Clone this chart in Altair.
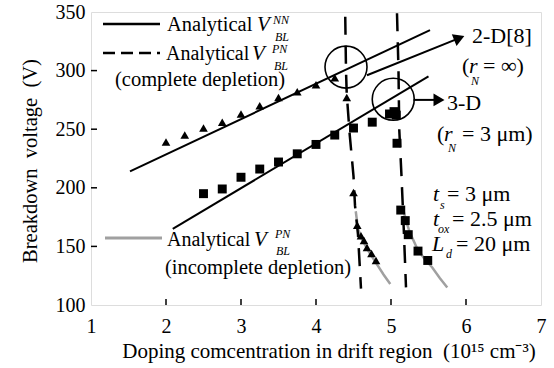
import altair as alt
import pandas as pd

FONT = "Liberation Serif"
W, H = 450, 293
PL, PT = 91, 12

# ---------------- data ----------------
tri_x = [2.0, 2.25, 2.5, 2.75, 3.0, 3.25, 3.5, 3.75, 4.0, 4.25, 4.41, 4.5, 4.55, 4.6, 4.64, 4.68, 4.74, 4.8]
tri_v = [239, 245, 251, 256, 263, 270, 277, 282, 288, 294, 277, 196, 168, 159, 155, 149, 144, 138]

sq_x = [2.5, 2.75, 3.0, 3.25, 3.5, 3.75, 4.0, 4.25, 4.5, 4.75, 4.98, 5.04, 5.07, 5.08, 5.13, 5.19, 5.23, 5.36, 5.49]
sq_v = [195, 199, 209, 216, 222, 229, 237, 245, 251, 256, 263, 265, 262, 238, 181, 172, 160, 146, 138]

nn2d_x = [1.52, 5.52]
nn2d_v = [214, 334.6]
nn3d_x = [2.09, 5.5]
nn3d_v = [165, 295]

pnl_x = [4.39, 4.40, 4.41, 4.45, 4.50, 4.52, 4.56, 4.60]
pnl_v = [346, 300, 280, 245, 210, 185, 160, 114]
pnr_x = [5.08, 5.10, 5.11, 5.14, 5.17, 5.20]
pnr_v = [349, 300, 250, 210, 165, 115]

inl_x = [4.53, 4.56, 4.62, 4.70, 4.80, 4.90, 4.99]
inl_v = [180, 165, 155, 146, 136, 126, 118]
inr_x = [5.15, 5.20, 5.25, 5.35, 5.45, 5.55, 5.65, 5.75]
inr_v = [185, 172, 162, 148, 139, 132, 123, 115]

circ_x = [4.40, 5.03]
circ_v = [303, 275.5]

arr1_x = [4.68, 5.91]
arr1_v = [296, 327.7]
arr2_x = [5.30, 5.64]
arr2_v = [275, 275]

x_ticks = [1, 2, 3, 4, 5, 6, 7]
y_ticks = [100, 150, 200, 250, 300, 350]

# ---------------- scales / axes ----------------
xs = alt.Scale(domain=[1, 7], nice=False, zero=False)
ys = alt.Scale(domain=[100, 350], nice=False, zero=False)
X = alt.X("x:Q", scale=xs, axis=alt.Axis(values=x_ticks, title=None, grid=False, ticks=False,
                                          domain=False, labelFont=FONT, labelFontSize=20,
                                          labelColor="black", labelPadding=11, labelFlush=False))
Y = alt.Y("v:Q", scale=ys, axis=alt.Axis(values=y_ticks, title=None, grid=False, ticks=False,
                                          domain=False, labelFont=FONT, labelFontSize=20,
                                          labelColor="black", labelPadding=6, labelFlush=False))


def df(xv, vv):
    return pd.DataFrame({"x": xv, "v": vv, "i": list(range(len(xv)))})


def line(xv, vv, color="black", width=2, dash=None):
    kw = dict(color=color, strokeWidth=width)
    if dash:
        kw["strokeDash"] = dash
    return alt.Chart(df(xv, vv)).mark_line(**kw).encode(x=X, y=Y, order="i:Q")


one = pd.DataFrame({"a": [0]})


def txt(s, x, y, size=20, italic=False, color="black", align="left", angle=0):
    kw = dict(text=s, font=FONT, fontSize=size, fontStyle="italic" if italic else "normal",
              align=align, baseline="middle", color=color)
    if angle:
        kw["angle"] = angle
    return alt.Chart(one).mark_text(**kw).encode(x=alt.value(x - PL), y=alt.value(y - PT))


def seg(x1, x2, y, color="black", width=2.5, dash=None):
    kw = dict(color=color, strokeWidth=width)
    if dash:
        kw["strokeDash"] = dash
    return alt.Chart(one).mark_rule(**kw).encode(x=alt.value(x1 - PL), x2=alt.value(x2 - PL),
                                                 y=alt.value(y - PT))


layers = []

# inside ticks
layers.append(alt.Chart(pd.DataFrame({"x": x_ticks[1:-1]})).mark_rule(color="black", strokeWidth=1.5)
              .encode(x=X, y=alt.value(H), y2=alt.value(H - 6)))
layers.append(alt.Chart(pd.DataFrame({"v": y_ticks[1:-1]})).mark_rule(color="black", strokeWidth=1.5)
              .encode(y=Y, x=alt.value(0), x2=alt.value(6)))

# curves
layers.append(line(inl_x, inl_v, color="#a0a0a0", width=2.5))
layers.append(line(inr_x, inr_v, color="#a0a0a0", width=2.5))
layers.append(line(nn2d_x, nn2d_v, width=2))
layers.append(line(nn3d_x, nn3d_v, width=2))
layers.append(line(pnl_x, pnl_v, width=2.5, dash=[18, 11]))
layers.append(line(pnr_x, pnr_v, width=2.5, dash=[18, 11]))

# markers
layers.append(alt.Chart(df(tri_x, tri_v)).mark_point(shape="triangle-up", filled=True, color="black",
                                                     opacity=1, size=75).encode(x=X, y=Y))
layers.append(alt.Chart(df(sq_x, sq_v)).mark_point(shape="square", filled=True, color="black",
                                                   opacity=1, size=80).encode(x=X, y=Y))

# circles and arrows
layers.append(alt.Chart(df(circ_x, circ_v)).mark_point(shape="circle", filled=False, color="black",
                                                       strokeWidth=1.6, opacity=1, size=1764)
              .encode(x=X, y=Y))
layers.append(line(arr1_x, arr1_v, width=2))
layers.append(line(arr2_x, arr2_v, width=2))
layers.append(alt.Chart(df([arr1_x[-1]], [arr1_v[-1]])).mark_point(shape="triangle-right", filled=True,
                                                                 color="black", opacity=1, size=160,
                                                                 angle=338).encode(x=X, y=Y))
layers.append(alt.Chart(df([arr2_x[-1]], [arr2_v[-1]])).mark_point(shape="triangle-right", filled=True,
                                                                 color="black", opacity=1, size=160)
              .encode(x=X, y=Y))

# legend
layers.append(seg(103, 160, 24, width=2.5))
layers += [txt("Analytical", 167, 25, size=20.5), txt("V", 257, 25, size=21, italic=True),
           txt("NN", 273, 20, size=12, italic=True), txt("BL", 275, 37, size=12, italic=True)]
layers.append(seg(103, 160, 53, width=2.5, dash=[12, 6]))
layers += [txt("Analytical", 166, 54, size=20), txt("V", 252, 54, size=21, italic=True),
           txt("PN", 272, 49, size=12, italic=True), txt("BL", 274, 66, size=12, italic=True),
           txt("(complete depletion)", 115, 80, size=20.5)]
layers.append(seg(105, 162, 238, color="#a0a0a0", width=3))
layers += [txt("Analytical", 167, 240, size=20), txt("V", 254, 240, size=21, italic=True),
           txt("PN", 275, 234, size=12, italic=True), txt("BL", 276, 251, size=12, italic=True),
           txt("(incomplete depletion)", 165, 268, size=20.5)]

# right annotations
layers += [txt("2-D[8]", 472, 36, size=22),
           txt("(", 462, 66, size=22), txt("r", 469, 66, size=22, italic=True),
           txt("N", 471, 81, size=12, italic=True),
           txt("= \u221e)", 483, 66, size=22),
           txt("3-D", 447, 103, size=22),
           txt("(", 437, 134, size=22), txt("r", 444, 134, size=22, italic=True),
           txt("N", 448, 148, size=12, italic=True),
           txt("= 3 \u03bcm)", 462, 134, size=22)]
layers += [txt("t", 433, 194, size=22, italic=True), txt("s", 440, 205, size=12, italic=True),
           txt("= 3 \u03bcm", 447, 194, size=22),
           txt("t", 433, 219, size=22, italic=True), txt("ox", 438, 229, size=12, italic=True),
           txt("= 2.5 \u03bcm", 452, 219, size=22),
           txt("L", 432, 244, size=22, italic=True), txt("d", 446, 254, size=12, italic=True),
           txt("= 20 \u03bcm", 456, 244, size=22)]

# axis titles
layers.append(txt("Breakdown\u00a0 voltage\u00a0 (V)", 31, 161, size=20.5, align="center", angle=270))
layers.append(txt("Doping comcentration in drift region\u00a0 (10\u00b9\u2075 cm\u207b\u00b3)", 329, 352,
                  size=21, align="center"))

chart = alt.layer(*layers).properties(
    width=W, height=H,
    autosize=alt.AutoSizeParams(type="none"),
    padding={"left": PL, "top": PT, "right": 554 - PL - W, "bottom": 368 - PT - H},
).configure_view(stroke="black", strokeWidth=1.5).configure(
    background="white", font=FONT
).configure_axis(labelFont=FONT)

chart.save("out.html", embed_options={"renderer": "svg", "actions": False})
